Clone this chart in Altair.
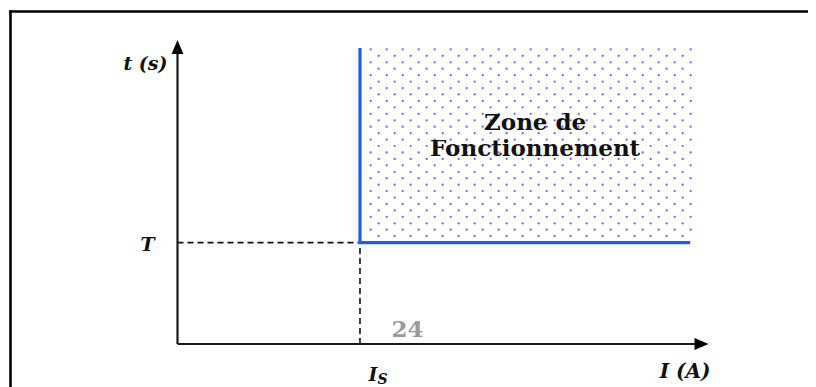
import altair as alt
import numpy as np
import pandas as pd

# ---- values (normalised: current in units of I_S, time in units of T) ----
I_S = 1.0
T_VAL = 1.0
I_AXIS_END = 2.91
T_AXIS_END = 3.0
ZONE_I_END = 2.81
ZONE_T_TOP = 2.92

curve_I = [ZONE_I_END, I_S, I_S]
curve_t = [T_VAL, T_VAL, ZONE_T_TOP]
zone_label = ["Zone de", "Fonctionnement"]

W, H = 531, 304
PX_I = W / I_AXIS_END
PX_T = H / T_AXIS_END

FONT = "DejaVu Serif"
BLUE = "#1f5fe8"
DOT = "#6a5cff"
INK = "#111111"

# ---- dotted texture of the operating zone ----
dots = []
for r in range(30):
    t = ZONE_T_TOP - (1.3 + 6.44 * r) / PX_T
    if r % 2 == 0:
        xs = I_S + (10.7 + 16 * np.arange(21)) / PX_I
    else:
        xs = I_S + (18.7 + 16 * np.arange(20)) / PX_I
    for x in xs:
        dots.append({"I": float(x), "t": float(t)})
dots_df = pd.DataFrame(dots)

xs = alt.Scale(domain=[0, I_AXIS_END], nice=False, zero=False)
ys = alt.Scale(domain=[0, T_AXIS_END], nice=False, zero=False)
X = lambda f: alt.X(f, type="quantitative", scale=xs, axis=None)
Y = lambda f: alt.Y(f, type="quantitative", scale=ys, axis=None)

one = pd.DataFrame({"k": [0]})

# frame (top and left edges only; the rest is cut by the picture)
frame_top = alt.Chart(one).mark_rule(color="#000000", strokeWidth=2.6).encode(
    x=alt.value(-168.3), x2=alt.value(700), y=alt.value(-28.5)
)
frame_left = alt.Chart(one).mark_rule(color="#000000", strokeWidth=2.6).encode(
    x=alt.value(-167), y=alt.value(-29.8), y2=alt.value(400)
)

dot_layer = alt.Chart(dots_df).mark_circle(size=5, color=DOT, opacity=1).encode(
    x=X("I"), y=Y("t")
)

# axes
axes_df = pd.DataFrame({
    "x1": [0, 0], "x2": [I_AXIS_END - 8 / PX_I, 0],
    "y1": [0, 0], "y2": [0, T_AXIS_END - 8 / PX_T],
})
axes = alt.Chart(axes_df).mark_rule(color="#1a1a1a", strokeWidth=2.2).encode(
    x=X("x1"), x2="x2", y=Y("y1"), y2="y2"
)
arrow_x = alt.Chart(pd.DataFrame({"I": [I_AXIS_END], "t": [0.0]})).mark_point(
    shape="M0,0 L-2,-0.85 L-2,0.85 Z", size=196, filled=True, color="#000000", opacity=1
).encode(x=X("I"), y=Y("t"))
arrow_y = alt.Chart(pd.DataFrame({"I": [0.0], "t": [T_AXIS_END]})).mark_point(
    shape="M0,0 L-0.85,2 L0.85,2 Z", size=196, filled=True, color="#000000", opacity=1
).encode(x=X("I"), y=Y("t"))

# dashed guides
dash_df = pd.DataFrame({
    "x1": [0, I_S], "x2": [I_S, I_S],
    "y1": [T_VAL, 0], "y2": [T_VAL, T_VAL],
})
dashes = alt.Chart(dash_df).mark_rule(color="#111111", strokeWidth=1.6, strokeDash=[6, 4]).encode(
    x=X("x1"), x2="x2", y=Y("y1"), y2="y2"
)

# characteristic
curve_df = pd.DataFrame({"I": curve_I, "t": curve_t, "o": [0, 1, 2]})
curve = alt.Chart(curve_df).mark_line(color=BLUE, strokeWidth=3.2, strokeJoin="miter").encode(
    x=X("I"), y=Y("t"), order="o"
)

def label(txt, I, t, dx, dy, size, color=INK, align="center", style="italic", weight="bold"):
    return alt.Chart(pd.DataFrame({"I": [I], "t": [t], "s": [txt]})).mark_text(
        font=FONT, fontSize=size, fontStyle=style, fontWeight=weight, color=color,
        align=align, baseline="middle", dx=dx, dy=dy
    ).encode(x=X("I"), y=Y("t"), text="s")

lab_t = label("t (s)", 0.0, T_AXIS_END, -10, 24, 19, align="right")
lab_T = label("T", 0.0, T_VAL, -30, 2, 19)
lab_I = label("I (A)", I_AXIS_END, 0.0, 2, 28, 20, align="right")
lab_Is = label("I", I_S, 0.0, 13, 31, 19)
lab_Is_sub = label("S", I_S, 0.0, 22.5, 36, 14)
lab_24 = label("24", I_S, 0.0, 47.5, -14.5, 23, color="#9a9a9a", style="normal")

zone_top = alt.Chart(pd.DataFrame({"I": [(I_S + ZONE_I_END) / 2], "t": [(T_VAL + ZONE_T_TOP) / 2],
                                   "s": [zone_label[0]]})).mark_text(
    font=FONT, fontSize=23, fontWeight="bold", color=INK, align="center",
    baseline="middle", dx=10, dy=-22
).encode(x=X("I"), y=Y("t"), text="s")
zone_bot = alt.Chart(pd.DataFrame({"I": [(I_S + ZONE_I_END) / 2], "t": [(T_VAL + ZONE_T_TOP) / 2],
                                   "s": [zone_label[1]]})).mark_text(
    font=FONT, fontSize=23, fontWeight="bold", color=INK, align="center",
    baseline="middle", dx=10, dy=4
).encode(x=X("I"), y=Y("t"), text="s")

chart = alt.layer(
    frame_top, frame_left, dot_layer, dashes, axes, arrow_x, arrow_y, curve,
    lab_t, lab_T, lab_I, lab_Is, lab_Is_sub, lab_24, zone_top, zone_bot
).properties(
    width=W, height=H,
    padding={"left": 169.5, "top": 32, "right": 99.5, "bottom": 43},
    autosize=alt.AutoSizeParams(type="none"),
    background="white",
).configure_view(stroke=None)

chart.save("out.html", embed_options={"renderer": "svg", "actions": False})
